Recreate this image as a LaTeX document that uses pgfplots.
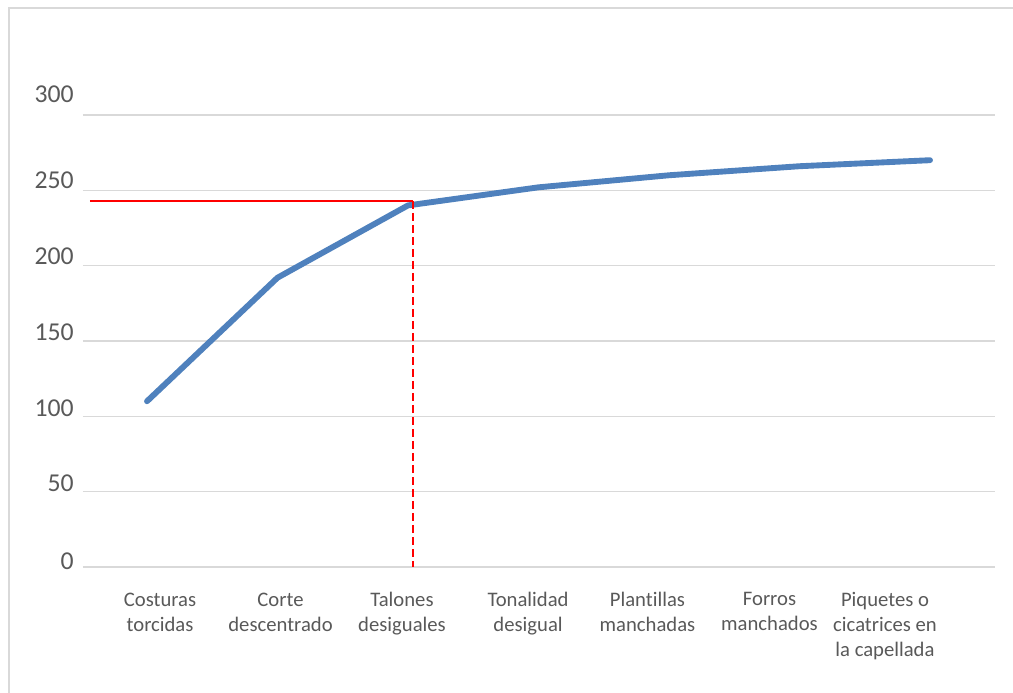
\documentclass[border=0pt]{standalone}
\usepackage{pgfplots}
\pgfplotsset{compat=1.18}
\usepackage{fontspec}
\setmainfont{Carlito}[Ligatures=NoCommon]
\definecolor{txt}{HTML}{595959}
\definecolor{grd}{HTML}{D9D9D9}
\definecolor{blu}{HTML}{4F81BD}
\begin{document}
\begin{tikzpicture}
\begin{axis}[
  at={(0,0)}, anchor=south west,
  scale only axis, width=684pt, height=361.6pt,
  xmin=-0.4904, xmax=6.498, ymin=0, ymax=320,
  clip=false,
  axis line style={draw=none},
  major tick length=0pt,
  ytick={0,50,100,150,200,250,300}, yticklabels={},
  ymajorgrids, grid style={grd, line width=1.2pt},
  extra y ticks={3.65,55.4,105.5,155.6,206.4,256.5,313.9},
  extra y tick labels={0,50,100,150,200,250,300},
  extra y tick style={grid=none, major tick length=0pt},
  yticklabel style={font=\fontsize{19.3}{22}\selectfont, text=txt, anchor=east, inner sep=0pt, xshift=-6.75pt},
  xtick={0.10,1.023,1.954,2.92,3.835,4.77,5.655},
  xticklabels={{Costuras\\torcidas},{Corte\\descentrado},{Talones\\desiguales},{Tonalidad\\desigual},{Plantillas\\manchadas},{Forros\\manchados},{Piquetes o\\cicatrices en\\la capellada}},
  xticklabel style={font=\fontsize{15.5}{18.75}\selectfont, text=txt, align=center, anchor=north, inner sep=0pt, yshift=-19pt},
]
\addplot[blu, line width=4.4pt, line cap=round, line join=round] coordinates {(0,110) (1,192) (2,240) (3,252) (4,260) (5,266) (6,270)};
\addplot[red, line width=1.6pt] coordinates {(-0.437,243) (2.035,243)};
\addplot[red, line width=1.5pt, dash pattern=on 6pt off 3pt] coordinates {(2.035,243) (2.035,0)};
\end{axis}
\draw[grd, line width=1.5pt] (-55.5pt,-100pt) -- (-55.5pt,419.25pt) -- (710pt,419.25pt);
\pgfresetboundingbox
\path[use as bounding box] (-62.25pt,-93.75pt) rectangle (697.5pt,425.25pt);
\end{tikzpicture}
\end{document}
